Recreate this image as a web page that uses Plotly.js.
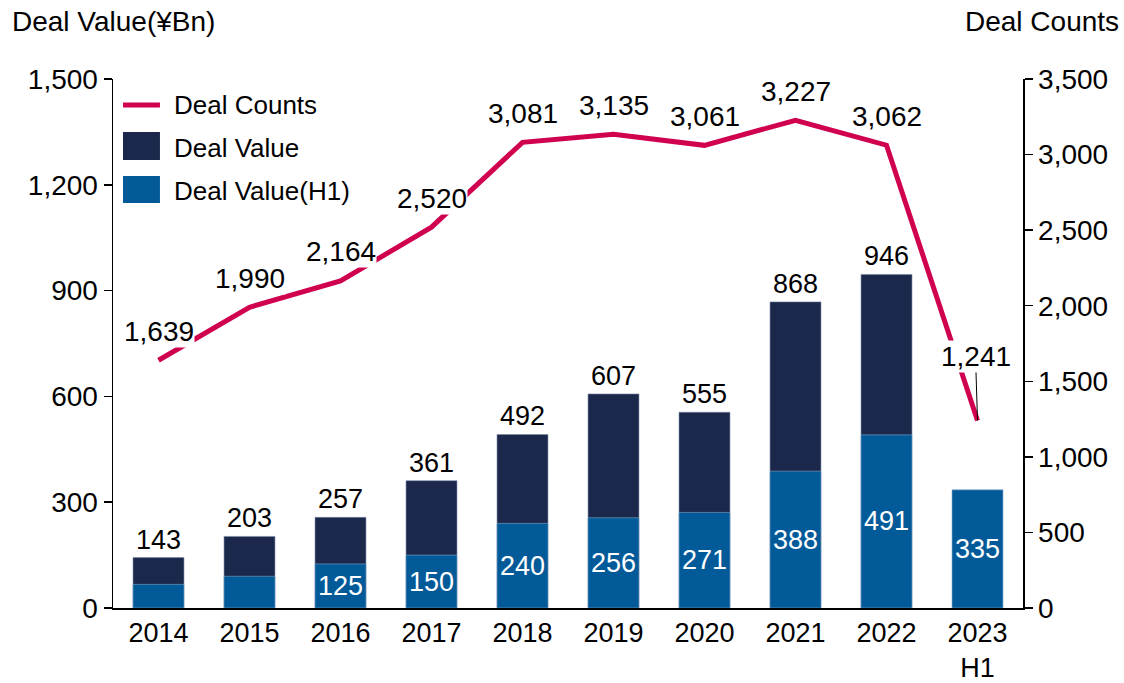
<!DOCTYPE html>
<html><head><meta charset="utf-8">
<script src="https://cdn.plot.ly/plotly-3.0.1.min.js"></script>
<style>html,body{margin:0;padding:0;background:#fff}#c{width:1124px;height:683px}</style>
</head><body><div id="c"></div>
<script>
const years = ['2014','2015','2016','2017','2018','2019','2020','2021','2022','2023<br>H1'];
const dealValue = [143,203,257,361,492,607,555,868,946,null];
const dealValueH1 = [67,90,125,150,240,256,271,388,491,335];
const h1Labels = ['','','125','150','240','256','271','388','491','335'];
const dealCounts = [1639,1990,2164,2520,3081,3135,3061,3227,3062,1241];
const seriesNames = ['Deal Counts','Deal Value','Deal Value(H1)'];
const seriesColors = ['#D0024F','#1B284B','#035A99'];

const FONT = 'Liberation Sans, Arial, sans-serif';
const fmt = v => v.toLocaleString('en-US');

const traces = [
  {type:'scatter', mode:'lines', name:seriesNames[0], x:years, y:dealCounts, yaxis:'y2',
   line:{color:seriesColors[0], width:5}, hoverinfo:'skip'},
  {type:'bar', name:seriesNames[1], x:years, y:dealValue, marker:{color:seriesColors[1], line:{color:'#7a8aa8',width:0.6}},
   text:dealValue.map(v=>v==null?'':String(v)), textposition:'outside', cliponaxis:false,
   textangle:0, constraintext:'none',
   textfont:{family:FONT,size:27,color:'#000'}, width:0.56},
  {type:'bar', name:seriesNames[2], x:years, y:dealValueH1, marker:{color:seriesColors[2], line:{color:'#7fa6c8',width:0.6}},
   text:h1Labels, textposition:'inside', insidetextanchor:'middle', textangle:0, constraintext:'none',
   textfont:{family:FONT,size:27,color:'#fff'}, width:0.56}
];

const annotations = dealCounts.map((v,i)=>{
  const last = i === dealCounts.length-1;
  return {x:i, y:v, xref:'x', yref:'y2', text:fmt(v),
    showarrow: last, arrowhead:0, arrowwidth:1, arrowcolor:'#000', ax:-2, ay: last?-64:0,
    yshift: last?0:29, font:{family:FONT,size:28,color:'#000'}, bgcolor:'#fff', borderpad:0};
});
annotations.push({xref:'paper',yref:'paper',x:-0.113,y:1.108,xanchor:'left',yanchor:'middle',
  text:'Deal Value(¥Bn)', showarrow:false, font:{family:FONT,size:28,color:'#000'}});
annotations.push({xref:'paper',yref:'paper',x:1.108,y:1.108,xanchor:'right',yanchor:'middle',
  text:'Deal Counts', showarrow:false, font:{family:FONT,size:28,color:'#000'}});

// custom legend (layout only)
const legY = [0.951, 0.870, 0.788];
const shapes = [
  {type:'line', xref:'paper', yref:'paper', x0:0.011, x1:0.0516, y0:legY[0], y1:legY[0],
   line:{color:seriesColors[0], width:5}},
  {type:'rect', xref:'paper', yref:'paper', x0:0.011, x1:0.0516, y0:0.8469, y1:0.8998,
   fillcolor:seriesColors[1], line:{width:0}},
  {type:'rect', xref:'paper', yref:'paper', x0:0.011, x1:0.0516, y0:0.7656, y1:0.8166,
   fillcolor:seriesColors[2], line:{width:0}}
];
seriesNames.forEach((n,i)=>annotations.push({xref:'paper',yref:'paper',x:0.0648,y:legY[i],
  xanchor:'left',yanchor:'middle',text:n,showarrow:false,font:{family:FONT,size:26,color:'#000'}}));

const layout = {
  width:1124, height:683, margin:{l:113,r:101,t:79,b:75},
  paper_bgcolor:'#fff', plot_bgcolor:'#fff',
  barmode:'overlay',
  font:{family:FONT,size:28,color:'#000'},
  showlegend:false,
  xaxis:{type:'category', range:[-0.5,9.5], showline:true, linecolor:'#000', linewidth:1.5, ticks:'', showgrid:false,
    tickfont:{family:FONT,size:27,color:'#000'}, automargin:false},
  yaxis:{range:[0,1500], tickvals:[0,300,600,900,1200,1500], tickformat:',d', showgrid:false, zeroline:false,
    showline:true, linecolor:'#000', linewidth:1.5, ticks:'outside', ticklen:8, tickcolor:'#000', tickwidth:1.5,
    tickfont:{family:FONT,size:28,color:'#000'}, automargin:false},
  yaxis2:{range:[0,3500], tickvals:[0,500,1000,1500,2000,2500,3000,3500], tickformat:',d', overlaying:'y', side:'right',
    showgrid:false, zeroline:false, showline:true, linecolor:'#000', linewidth:1.5, ticks:'outside', ticklen:8,
    tickcolor:'#000', tickwidth:1.5, tickfont:{family:FONT,size:28,color:'#000'}, automargin:false},
  annotations:annotations, shapes:shapes
};
Plotly.newPlot('c', traces, layout, {displayModeBar:false, staticPlot:true});
</script></body></html>
